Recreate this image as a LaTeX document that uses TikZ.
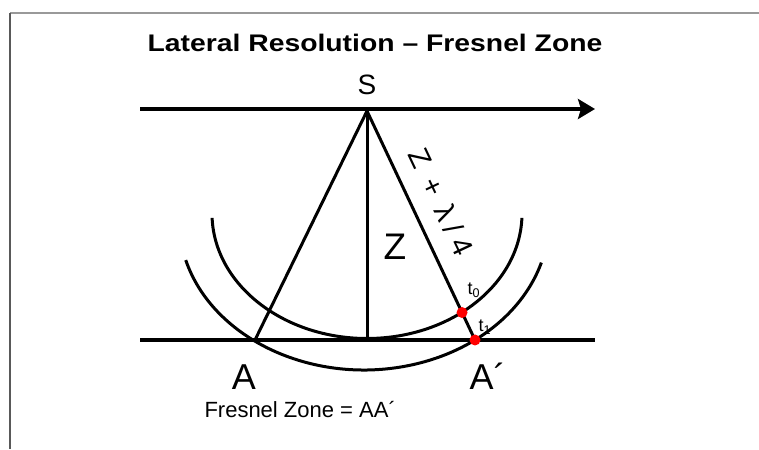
\documentclass[tikz,border=0pt]{standalone}
\usepackage{fontspec}
\setmainfont{Liberation Sans}
\usetikzlibrary{arrows.meta,calc}

\begin{document}
\begin{tikzpicture}[x=1pt, y=1pt, line width=3pt, every node/.style={inner sep=0pt}, >={Stealth[length=17pt, width=20pt, inset=3pt]}, lbl/.style={font=\fontsize{#1}{#1}\selectfont}, hit/.style={circle, fill=red, minimum size=11pt}, sub/.style={font=\fontsize{18}{18}\selectfont, anchor=base west}]
	\useasboundingbox (0,0) rectangle (759,449);
	\draw[black!40, line width=1.5pt] (10,436) -- (759,436);
	\draw[black!65, line width=1.5pt] (10,436) -- (10,0);
	\coordinate (S) at (367,338);
	\coordinate (O) at (367,109);
	\coordinate (A) at (255,109);
	\coordinate (Ap) at (475,109);
	\coordinate (t0) at ($(S)!0.88!(Ap)$);
	\coordinate (ci) at (367,235.5);
	\coordinate (co) at (364,229);
	\coordinate (wl) at (140,340);
	\coordinate (wr) at (595,340);
	\coordinate (bl) at (140,109);
	\coordinate (br) at (595,109);
	\draw[->, line width=3.5pt] (wl) -- (wr);
	\draw[line width=3.5pt] (bl) -- (br);
	\draw ([shift={(182:155 and 125)}]ci) arc[start angle=182, end angle=358, x radius=155, y radius=125];
	\draw ([shift={(195.5:185 and 150)}]co) arc[start angle=195.5, end angle=343.5, x radius=185, y radius=150];
	\draw (S) -- (A);
	\draw (S) -- (O);
	\draw (S) -- node[sloped, above=16pt, pos=0.45, lbl=29] (zl) {Z\hspace{14pt}+\hspace{13pt}λ\hspace{7pt}/\hspace{7pt}4} (Ap);
	\node[hit] (h0) at (t0) {};
	\node[hit] (h1) at (Ap) {};
	\node[anchor=base, font=\bfseries\fontsize{24}{24}\selectfont] (title) at (375,397) {\scalebox{1.18}[1]{Lateral Resolution – Fresnel Zone}};
	\node[lbl=28, anchor=base] (s) at (367,354) {S};
	\node[lbl=37, anchor=base] (z) at (395,189) {Z};
	\node[lbl=36, anchor=base] (a) at (244,59) {A};
	\node[lbl=36, anchor=base west] (ap) at (468,59) {A´};
	\node[lbl=22, anchor=base west] (fz) at (203,31) {Fresnel Zone = AA´};
	\node[sub] (l0) at (466,154) {t\textsubscript{0}};
	\node[sub] (l1) at (477,117) {t\textsubscript{1}};
\end{tikzpicture}
\end{document}
